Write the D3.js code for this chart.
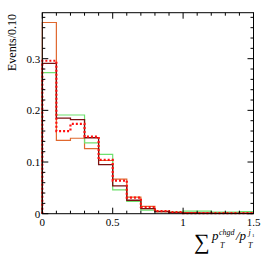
<!DOCTYPE html>
<html>
<head>
<meta charset="utf-8">
<script src="https://cdn.jsdelivr.net/npm/d3@7"></script>
<style>
  body { margin: 0; background: #fff; }
  text { font-family: "Liberation Serif", "DejaVu Serif", serif; }
</style>
</head>
<body>
<svg id="chart" width="266" height="255"></svg>
<script>
// bin lower edges, width 0.1
var binEdges = [0, 0.1, 0.2, 0.3, 0.4, 0.5, 0.6, 0.7, 0.8, 0.9, 1.0, 1.1, 1.2, 1.3, 1.4, 1.5];

var orangeVals = [0.370, 0.142, 0.146, 0.126, 0.103, 0.067, 0.032, 0.014, 0.005, 0.003, 0.002, 0.001, 0.001, 0.001, 0.001];
var greenVals  = [0.273, 0.191, 0.191, 0.137, 0.115, 0.046, 0.024, 0.007, 0.004, 0.003, 0.005, 0.005, 0.003, 0.003, 0.004];
var darkVals   = [0.291, 0.185, 0.182, 0.147, 0.095, 0.054, 0.026, 0.010, 0.004, 0.002, 0.001, 0.001, 0.0005, 0.0005, 0.0005];
var redVals    = [0.296, 0.160, 0.174, 0.149, 0.104, 0.064, 0.031, 0.013, 0.005, 0.003, 0.001, 0.001, 0.001, 0.001, 0.001];

var xMajor = [0, 0.5, 1, 1.5];
var xMinor = d3.range(0, 1.51, 0.1);
var yMajor = [0, 0.1, 0.2, 0.3];
var yMinor = d3.range(0, 0.381, 0.02);

var svg = d3.select('#chart');
// note: 'top' is taken by window.top, so use frame* names
var frameL = 42.3, frameR = 253.5, frameT = 12.7, frameB = 213.7;

var x = d3.scaleLinear().domain([0, 1.5]).range([frameL, frameR]);
var y = d3.scaleLinear().domain([0, 0.389]).range([frameB, frameT]);

// histogram as a step path, starting from 0
function histPoints(vals) {
  var pts = [[binEdges[0], 0]];
  vals.forEach(function(v, i) { pts.push([binEdges[i], v]); });
  pts.push([binEdges[vals.length], vals[vals.length - 1]]);
  return pts;
}
var line = d3.line()
  .x(function(d) { return x(d[0]); })
  .y(function(d) { return y(d[1]); })
  .curve(d3.curveStepAfter);

var series = [
  {vals: orangeVals, color: '#e0682e', width: 1.2, dash: null},
  {vals: greenVals,  color: '#6ee06e', width: 1.2, dash: null},
  {vals: darkVals,   color: '#7a1010', width: 1.3, dash: null},
  {vals: redVals,    color: '#ff1010', width: 2.2, dash: '2,2'}
];

var plot = svg.append('g');
series.forEach(function(s) {
  plot.append('path')
    .attr('d', line(histPoints(s.vals)))
    .attr('fill', 'none')
    .attr('stroke', s.color)
    .attr('stroke-width', s.width)
    .attr('stroke-dasharray', s.dash);
});

// frame
svg.append('rect')
  .attr('x', frameL).attr('y', frameT)
  .attr('width', frameR - frameL).attr('height', frameB - frameT)
  .attr('fill', 'none').attr('stroke', '#000').attr('stroke-width', 1);

// ticks (inside, on all four sides)
var tg = svg.append('g').attr('stroke', '#000').attr('stroke-width', 1);
function isMajorX(v) { return xMajor.some(function(m) { return Math.abs(m - v) < 1e-6; }); }
function isMajorY(v) { return Math.abs(v * 10 - Math.round(v * 10)) < 1e-6; }
xMinor.forEach(function(v) {
  var len = isMajorX(v) ? 6 : 3;
  tg.append('line').attr('x1', x(v)).attr('x2', x(v)).attr('y1', frameB).attr('y2', frameB - len);
  tg.append('line').attr('x1', x(v)).attr('x2', x(v)).attr('y1', frameT).attr('y2', frameT + len);
});
yMinor.forEach(function(v) {
  var len = isMajorY(v) ? 6 : 3;
  tg.append('line').attr('y1', y(v)).attr('y2', y(v)).attr('x1', frameL).attr('x2', frameL + len);
  tg.append('line').attr('y1', y(v)).attr('y2', y(v)).attr('x1', frameR).attr('x2', frameR - len);
});

// tick labels
svg.append('g').selectAll('text').data(xMajor).join('text')
  .attr('x', function(d) { return x(d); })
  .attr('y', 225.5)
  .attr('text-anchor', 'middle')
  .attr('font-size', 11)
  .text(function(d) { return d3.format('')(d); });
svg.append('g').selectAll('text').data(yMajor).join('text')
  .attr('x', frameL - 2)
  .attr('y', function(d) { return y(d) + 4; })
  .attr('text-anchor', 'end')
  .attr('font-size', 11)
  .text(function(d) { return d3.format('')(d); });

// y title
svg.append('text')
  .attr('transform', 'translate(16,14) rotate(-90)')
  .attr('text-anchor', 'end')
  .attr('font-size', 12)
  .text('Events/0.10');

// x title: sum p_T^chgd / p_T^j1
var xt = svg.append('g');
xt.append('text').attr('x', 194).attr('y', 249).attr('font-size', 22).text('\u2211');
xt.append('text').attr('x', 212).attr('y', 240).attr('font-size', 13).attr('font-style', 'italic').text('p');
xt.append('text').attr('x', 219).attr('y', 235).attr('font-size', 8).attr('font-style', 'italic').text('chgd');
xt.append('text').attr('x', 220).attr('y', 248).attr('font-size', 8).attr('font-style', 'italic').text('T');
xt.append('text').attr('x', 236).attr('y', 240).attr('font-size', 13).attr('font-style', 'italic').text('/p');
xt.append('text').attr('x', 248.5).attr('y', 235).attr('font-size', 8).attr('font-style', 'italic').text('j');
xt.append('text').attr('x', 252).attr('y', 236.5).attr('font-size', 5).text('1');
xt.append('text').attr('x', 248).attr('y', 248).attr('font-size', 8).attr('font-style', 'italic').text('T');
</script>
</body>
</html>
